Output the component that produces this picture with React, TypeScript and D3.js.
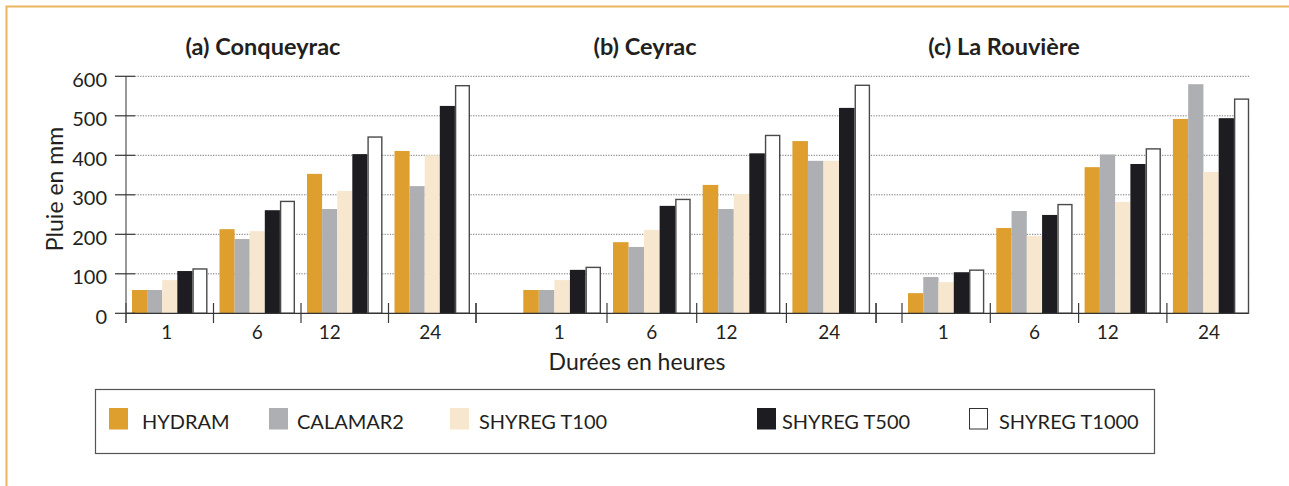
import React, { useEffect, useRef } from "react";
import * as d3 from "d3";

// Data (mm of rain), stations a, b, c x durations 1, 6, 12, 24 h
const stations = ["(a) Conqueyrac", "(b) Ceyrac", "(c) La Rouvière"];
const durations = ["1", "6", "12", "24"];
const seriesNames = ["HYDRAM", "CALAMAR2", "SHYREG T100", "SHYREG T500", "SHYREG T1000"];
const yTicks = [0, 100, 200, 300, 400, 500, 600];

const hydram = [59, 213, 353, 411, 59, 180, 325, 436, 51, 216, 370, 492];
const calamar2 = [59, 188, 264, 322, 59, 168, 264, 386, 92, 259, 402, 580];
const shyregT100 = [84, 208, 310, 400, 84, 211, 302, 386, 79, 196, 282, 358];
const shyregT500 = [107, 261, 403, 525, 110, 272, 405, 520, 104, 249, 378, 494];
const shyregT1000 = [114, 285, 448, 578, 118, 290, 452, 579, 111, 277, 418, 544];

const seriesValues = [hydram, calamar2, shyregT100, shyregT500, shyregT1000];
const colors = ["#DE9F2E", "#AEAFB2", "#F7E7CE", "#1D1C21", "#FFFFFF"];

const FONT = "Lato, 'Open Sans', sans-serif";
const INK = "#231F20";

// panel layout (pixel geometry of the three sub-charts)
const panels = [
  { axisStart: 126, groupStart: 126, step: 87.5, tickEdges: [0, 1, 2, 3, 4], titleX: 263 },
  { axisStart: 476, groupStart: 517.3, step: 89.7, tickEdges: [1, 2, 3, 4], titleX: 645 },
  { axisStart: 876, groupStart: 902, step: 88.3, tickEdges: [0, 1, 2, 3], titleX: 1004 },
];
const axisEnd = 1248;
const labelNudge = [-3, 0, -15, -2];
const legendX = [109, 269, 450, 757, 969];
const legendTextGap = [33, 28, 29, 25, 30];

const App = () => {
  const svgRef = useRef(null);

  useEffect(() => {
    drawChart();
  }, []);

  const drawChart = () => {
    const svg = d3.select(svgRef.current);
    svg.selectAll("*").remove();

    const width = 1289;
    const height = 486;

    const y = d3.scaleLinear().domain([0, 600]).range([313.3, 76.3]);

    // orange frame
    svg.append("path")
      .attr("d", `M6.5,${height} L6.5,6.5 L${width},6.5`)
      .attr("fill", "none")
      .attr("stroke", "#EAB55C")
      .attr("stroke-width", 2);

    // gridlines
    svg.append("g")
      .selectAll("line")
      .data(yTicks.filter((d) => d > 0))
      .join("line")
      .attr("x1", 135)
      .attr("x2", 1250)
      .attr("y1", (d) => y(d))
      .attr("y2", (d) => y(d))
      .attr("stroke", "#7a7a7a")
      .attr("stroke-width", 1)
      .attr("stroke-dasharray", "1.3,1.3");

    // bars
    panels.forEach((p, pi) => {
      const x0 = d3
        .scaleBand()
        .domain(durations)
        .range([p.groupStart, p.groupStart + p.step * durations.length])
        .padding(0);
      const x1 = d3
        .scaleBand()
        .domain(seriesNames)
        .range([6, p.step - 6])
        .padding(0);

      const g = svg.append("g");
      durations.forEach((dur, di) => {
        seriesNames.forEach((s, si) => {
          const v = seriesValues[si][pi * durations.length + di];
          const isOutline = si === 4;
          g.append("rect")
            .attr("x", x0(dur) + x1(s) + (isOutline ? 0.7 : 0))
            .attr("y", y(v) + (isOutline ? 0.7 : 0))
            .attr("width", x1.bandwidth() - (isOutline ? 1.4 : 0))
            .attr("height", y(0) - y(v) - (isOutline ? 0.7 : 0))
            .attr("fill", colors[si])
            .attr("stroke", isOutline ? "#4a4a4a" : "none")
            .attr("stroke-width", isOutline ? 1.4 : 0);
        });
      });

      // x ticks
      g.selectAll(".xtick")
        .data(p.tickEdges)
        .join("line")
        .attr("class", "xtick")
        .attr("x1", (e) => p.groupStart + e * p.step)
        .attr("x2", (e) => p.groupStart + e * p.step)
        .attr("y1", 303)
        .attr("y2", 323)
        .attr("stroke", "#3a3a3a")
        .attr("stroke-width", 1.2);
      if (!p.tickEdges.includes(0) || p.axisStart !== p.groupStart) {
        g.append("line")
          .attr("x1", p.axisStart)
          .attr("x2", p.axisStart)
          .attr("y1", 303)
          .attr("y2", 323)
          .attr("stroke", "#3a3a3a")
          .attr("stroke-width", 1.2);
      }

      // x labels
      g.selectAll(".xlab")
        .data(durations)
        .join("text")
        .attr("class", "xlab")
        .attr("x", (d, i) => x0(d) + x0.bandwidth() / 2 + labelNudge[i])
        .attr("y", 338.5)
        .attr("text-anchor", "middle")
        .attr("font-family", FONT)
        .attr("font-size", 19)
        .attr("fill", INK)
        .text((d) => d);

      // panel title
      svg.append("text")
        .attr("x", p.titleX)
        .attr("y", 55)
        .attr("text-anchor", "middle")
        .attr("font-family", FONT)
        .attr("font-weight", "bold")
        .attr("font-size", 23.5)
        .attr("fill", INK)
        .text(stations[pi]);
    });

    // x axis line
    svg.append("line")
      .attr("x1", 126)
      .attr("x2", axisEnd)
      .attr("y1", y(0))
      .attr("y2", y(0))
      .attr("stroke", "#333")
      .attr("stroke-width", 1.3);

    // y axis
    svg.append("line")
      .attr("x1", 126)
      .attr("x2", 126)
      .attr("y1", y(600))
      .attr("y2", 323)
      .attr("stroke", "#555")
      .attr("stroke-width", 1.2);

    svg.append("g")
      .selectAll("line")
      .data(yTicks)
      .join("line")
      .attr("x1", 115)
      .attr("x2", 135)
      .attr("y1", (d) => y(d))
      .attr("y2", (d) => y(d))
      .attr("stroke", "#333")
      .attr("stroke-width", 1.2);

    svg.append("g")
      .selectAll("text")
      .data(yTicks)
      .join("text")
      .attr("x", 107)
      .attr("y", (d) => y(d) + 10.5)
      .attr("text-anchor", "end")
      .attr("font-family", FONT)
      .attr("font-size", 20)
      .attr("fill", INK)
      .text((d) => d);

    // axis titles
    svg.append("text")
      .attr("transform", "translate(63,189) rotate(-90)")
      .attr("text-anchor", "middle")
      .attr("font-family", FONT)
      .attr("font-size", 23)
      .attr("fill", INK)
      .text("Pluie en mm");

    svg.append("text")
      .attr("x", 637)
      .attr("y", 370)
      .attr("text-anchor", "middle")
      .attr("font-family", FONT)
      .attr("font-size", 23)
      .attr("fill", INK)
      .text("Durées en heures");

    // legend
    svg.append("rect")
      .attr("x", 95.5)
      .attr("y", 389.5)
      .attr("width", 1059)
      .attr("height", 64)
      .attr("fill", "none")
      .attr("stroke", "#555")
      .attr("stroke-width", 1.2);

    const legend = svg.append("g");
    seriesNames.forEach((s, i) => {
      legend.append("rect")
        .attr("x", legendX[i] + (i === 4 ? 0.5 : 0))
        .attr("y", 408 + (i === 4 ? 0.5 : 0))
        .attr("width", 19 - (i === 4 ? 1 : 0))
        .attr("height", 21.5 - (i === 4 ? 1 : 0))
        .attr("fill", colors[i])
        .attr("stroke", i === 4 ? "#333" : "none")
        .attr("stroke-width", 1);
      legend.append("text")
        .attr("x", legendX[i] + legendTextGap[i])
        .attr("y", 429.3)
        .attr("font-family", FONT)
        .attr("font-size", 20)
        .attr("fill", INK)
        .text(s);
    });
  };

  return (
    <svg
      ref={svgRef}
      width="1289"
      height="486"
      style={{ position: "absolute", left: 0, top: 0, background: "#fff" }}
    ></svg>
  );
};

export default App;
